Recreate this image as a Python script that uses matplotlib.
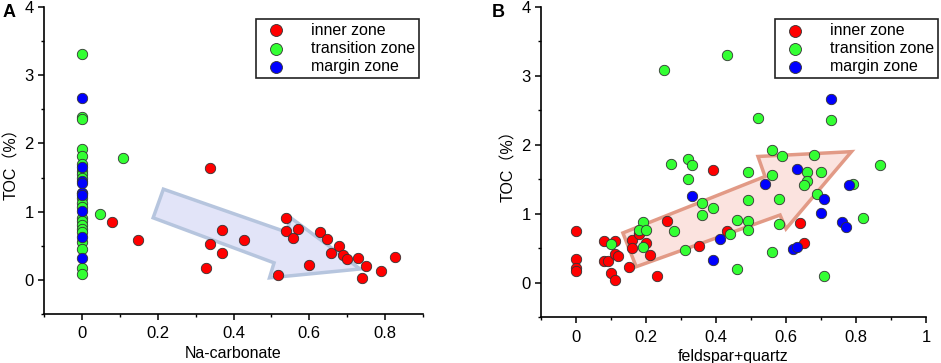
import matplotlib
matplotlib.use("Agg")
import matplotlib.pyplot as plt
from matplotlib.patches import Polygon
from matplotlib.ticker import MultipleLocator, FuncFormatter

plt.rcParams['font.family'] = ['Liberation Sans', 'Noto Sans CJK SC', 'DejaVu Sans']

# ---------------- Panel A data (Na-carbonate vs TOC) ----------------
a_inner_x = [0.079, 0.149, 0.339, 0.339, 0.328, 0.369, 0.369, 0.428, 0.539, 0.539,
             0.569, 0.558, 0.518, 0.599, 0.628, 0.648, 0.658, 0.678, 0.689, 0.699,
             0.728, 0.749, 0.739, 0.789, 0.827]
a_inner_y = [0.85, 0.58, 1.64, 0.52, 0.17, 0.73, 0.39, 0.58, 0.90, 0.72,
             0.74, 0.61, 0.07, 0.22, 0.70, 0.60, 0.39, 0.49, 0.37, 0.31,
             0.32, 0.20, 0.03, 0.13, 0.33]
a_trans_x = [0.0] * 22 + [0.048, 0.109]
a_trans_y = [3.31, 2.39, 2.36, 1.92, 1.82, 1.70, 1.60, 1.55, 1.49, 1.28, 1.20, 1.13,
             1.07, 0.90, 0.86, 0.80, 0.74, 0.70, 0.55, 0.45, 0.18, 0.08,
             0.97, 1.79]
a_margin_x = [0.0] * 9
a_margin_y = [2.66, 1.65, 1.45, 1.42, 1.28, 1.25, 1.01, 0.63, 0.32]

# ---------------- Panel B data (feldspar+quartz vs TOC) ----------------
b_inner_x = [0.00, 0.00, 0.00, 0.00, 0.08, 0.11, 0.08, 0.09, 0.11, 0.12,
             0.10, 0.11, 0.15, 0.16, 0.16, 0.18, 0.18, 0.20, 0.21, 0.23,
             0.26, 0.35, 0.39, 0.43, 0.64, 0.65]
b_inner_y = [0.75, 0.34, 0.21, 0.17, 0.61, 0.60, 0.32, 0.32, 0.41, 0.39,
             0.14, 0.04, 0.23, 0.62, 0.50, 0.72, 0.70, 0.58, 0.40, 0.09,
             0.90, 0.53, 1.64, 0.75, 0.86, 0.58]
b_trans_x = [0.25, 0.43, 0.52, 0.73, 0.56, 0.59, 0.68, 0.87, 0.27, 0.32,
             0.33, 0.32, 0.49, 0.56, 0.66, 0.70, 0.66, 0.65, 0.69, 0.79,
             0.36, 0.39, 0.49, 0.58, 0.36, 0.46, 0.49, 0.49, 0.58, 0.82,
             0.19, 0.18, 0.20, 0.28, 0.19, 0.10, 0.31, 0.44, 0.56, 0.46, 0.71]
b_trans_y = [3.09, 3.30, 2.39, 2.36, 1.92, 1.83, 1.85, 1.70, 1.72, 1.80,
             1.70, 1.50, 1.61, 1.56, 1.60, 1.60, 1.47, 1.42, 1.29, 1.43,
             1.16, 1.08, 1.20, 1.21, 0.98, 0.91, 0.89, 0.77, 0.85, 0.93,
             0.88, 0.76, 0.76, 0.75, 0.52, 0.56, 0.47, 0.70, 0.44, 0.19, 0.10]
b_margin_x = [0.73, 0.63, 0.54, 0.78, 0.33, 0.71, 0.70, 0.76, 0.77, 0.41, 0.62, 0.63, 0.39]
b_margin_y = [2.66, 1.65, 1.43, 1.42, 1.26, 1.21, 1.01, 0.88, 0.81, 0.63, 0.49, 0.52, 0.33]

# Trend arrow outlines (data coordinates)
arrow_a = [(0.215, 1.33), (0.540, 0.70), (0.551, 0.91), (0.734, 0.16),
           (0.495, 0.03), (0.507, 0.25), (0.188, 0.91)]
arrow_b = [(0.134, 0.72), (0.540, 1.54), (0.520, 1.83), (0.787, 1.90),
           (0.600, 0.78), (0.583, 0.98), (0.172, 0.23)]

labels = ["inner zone", "transition zone", "margin zone"]
colors = ["#ff0000", "#33ff33", "#0000ff"]

fig = plt.figure(figsize=(9.41, 3.63), dpi=100)
axA = fig.add_axes([44 / 941, 1 - 314 / 363, (423 - 44) / 941, (314 - 7) / 363])
axB = fig.add_axes([541 / 941, 1 - 317 / 363, (926 - 541) / 941, (317 - 7) / 363])


def fmt(v, pos):
    if abs(v) < 1e-9:
        return "0"
    if abs(v - round(v)) < 1e-9:
        return str(int(round(v)))
    return "%.1f" % v


def style(ax, xlim, xlabel):
    ax.set_xlim(*xlim)
    ax.set_ylim(-0.5, 4)
    ax.spines['top'].set_visible(False)
    ax.spines['right'].set_visible(False)
    for s in ('left', 'bottom'):
        ax.spines[s].set_linewidth(1.2)
    ax.xaxis.set_major_locator(MultipleLocator(0.2))
    ax.xaxis.set_minor_locator(MultipleLocator(0.1))
    ax.yaxis.set_major_locator(MultipleLocator(1))
    ax.yaxis.set_minor_locator(MultipleLocator(0.5))
    ax.xaxis.set_major_formatter(FuncFormatter(fmt))
    ax.tick_params(which='major', direction='out', length=4, width=1.1, labelsize=12)
    ax.tick_params(axis='x', which='major', pad=5)
    ax.tick_params(which='minor', direction='out', length=2.5, width=1.0)
    ax.set_xlabel(xlabel, fontsize=11.5, labelpad=3)
    ax.set_ylabel("TOC（%）", fontsize=11.5, labelpad=4)


mk = dict(s=56, edgecolors="#333333", linewidths=0.6, zorder=3)

# Panel A
axA.add_patch(Polygon(arrow_a, closed=True, facecolor="#e2e4f8", edgecolor="#b6c5de",
                      linewidth=2.5, joinstyle='miter', zorder=1))
axA.scatter(a_inner_x, a_inner_y, c=colors[0], label=labels[0], **mk)
axA.scatter(a_trans_x, a_trans_y, c=colors[1], label=labels[1], **mk)
axA.scatter(a_margin_x, a_margin_y, c=colors[2], label=labels[2], **mk)
style(axA, (-0.1, 0.9), "Na-carbonate")

# Panel B
axB.add_patch(Polygon(arrow_b, closed=True, facecolor="#fbe3df", edgecolor="#e29a86",
                      linewidth=2.5, joinstyle='miter', zorder=1))
axB.scatter(b_inner_x, b_inner_y, c=colors[0], label=labels[0], **mk)
axB.scatter(b_trans_x, b_trans_y, c=colors[1], label=labels[1], **mk)
axB.scatter(b_margin_x, b_margin_y, c=colors[2], label=labels[2], **mk)
style(axB, (-0.1, 1.0), "feldspar+quartz")

for ax, anchor in ((axA, (0.99, 0.962)), (axB, (1.032, 0.962))):
    leg = ax.legend(loc='upper right', bbox_to_anchor=anchor, fontsize=11.5,
                    frameon=True, fancybox=False, framealpha=1, edgecolor='#222222',
                    borderpad=0.25, labelspacing=0.2, handletextpad=1.2,
                    markerscale=1.15, borderaxespad=0)
    leg.get_frame().set_linewidth(1.2)

fig.text(3 / 941, 1 - 17 / 363, "A", fontsize=13, fontweight='bold')
fig.text(492 / 941, 1 - 17 / 363, "B", fontsize=13, fontweight='bold')

fig.savefig("out.png", dpi=100)
